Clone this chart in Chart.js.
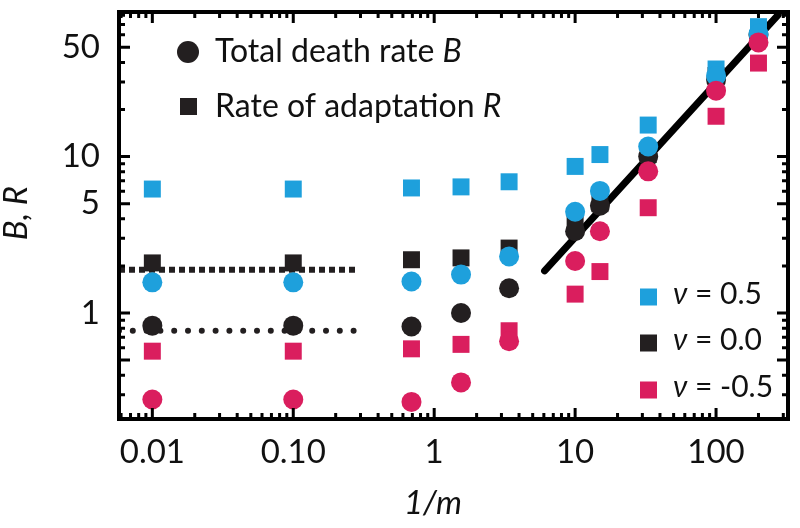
<!DOCTYPE html>
<html>
<head>
<meta charset="utf-8">
<script src="https://cdn.jsdelivr.net/npm/chart.js@4.4.0/dist/chart.umd.min.js"></script>
<style>
  html, body { margin: 0; padding: 0; background: #fff; }
</style>
</head>
<body>
<canvas id="statChart" width="800" height="528"></canvas>
<script>
// Trục x: 1/m
const invM = [0.01, 0.1, 0.69, 1.55, 3.4, 10, 15, 33, 100, 200];

// Total death rate B (hình tròn)
const bPos  = [1.57, 1.57, 1.59, 1.76, 2.3, 4.44, 6.03, 11.6, 32.8, 61];
const bZero = [0.83, 0.83, 0.82, 1.0, 1.44, 3.33, 4.85, 10.0, 31, 60];
const bNeg  = [0.28, 0.28, 0.27, 0.36, 0.66, 2.15, 3.33, 8.05, 26.4, 53.7];

// Rate of adaptation R (hình vuông)
const rPos  = [6.2, 6.2, 6.3, 6.4, 6.9, 8.65, 10.3, 15.9, 36.3, 67.7];
const rZero = [2.09, 2.09, 2.19, 2.25, 2.6, 4.0, 5.0, 10.3, 33, 63];
const rNeg  = [0.57, 0.57, 0.59, 0.63, 0.77, 1.32, 1.84, 4.71, 18.1, 39.6];

// Đường thẳng và hai giới hạn chấm
const fitX = [6.07, 276];
const fitY = [1.86, 80.5];
const limitX = [0.0058, 0.285];
const limitR = [1.89, 1.89];
const limitB = [0.77, 0.77];

// Nhãn trục
const xTicks = [0.01, 0.1, 1, 10, 100];
const xTickLabels = ['0.01', '0.10', '1', '10', '100'];
const yTicks = [1, 5, 10, 50];
const yTickLabels = ['1', '5', '10', '50'];

const X_MIN = 0.0058, X_MAX = 324;
const Y_MIN = 0.21, Y_MAX = 84;

const BLUE = 'rgb(30,160,220)';
const BLACK = 'rgb(35,31,32)';
const RED = 'rgb(218,30,94)';
const FONT = 'Lato';

function pts(xs, ys) {
    return xs.map((x, i) => ({ x: x, y: ys[i] }));
}

function markers(ys, color, style) {
    return {
        data: pts(invM, ys),
        pointStyle: style,
        pointRadius: style === 'rect' ? 12 : 10,
        pointHoverRadius: style === 'rect' ? 12 : 10,
        backgroundColor: color,
        borderColor: color,
        borderWidth: 0,
        showLine: false
    };
}

// thứ tự vẽ: phần tử đầu vẽ trước
const datasets = [
    {
        data: pts(limitX, limitR), showLine: true, pointRadius: 0,
        borderColor: BLACK, borderWidth: 6, borderDash: [6, 4], borderCapStyle: 'butt'
    },
    {
        data: pts(limitX, limitB), showLine: true, pointRadius: 0,
        borderColor: BLACK, borderWidth: 6, borderDash: [0, 13.8], borderCapStyle: 'round'
    },
    {
        data: pts(fitX, fitY), showLine: true, pointRadius: 0,
        borderColor: 'rgb(0,0,0)', borderWidth: 7, borderCapStyle: 'round'
    },
    markers(rZero, BLACK, 'rect'),
    markers(bZero, BLACK, 'circle'),
    markers(rNeg, RED, 'rect'),
    markers(rPos, BLUE, 'rect'),
    markers(bPos, BLUE, 'circle'),
    markers(bNeg, RED, 'circle')
];
datasets.forEach((d, i) => { d.order = datasets.length - i; });

// Khung, vạch chia hướng vào trong
const framePlugin = {
    id: 'frame',
    afterDatasetsDraw(chart) {
        const ctx = chart.ctx;
        const a = chart.chartArea;
        const xs = chart.scales.x, ys = chart.scales.y;
        ctx.save();
        ctx.strokeStyle = '#000';
        ctx.lineWidth = 3;
        ctx.beginPath();
        for (let d = -3; d <= 2; d++) {
            for (let k = 1; k <= 9; k++) {
                const v = k * Math.pow(10, d);
                if (v < X_MIN || v > X_MAX) continue;
                const p = xs.getPixelForValue(v);
                const len = k === 1 ? 11 : 6;
                ctx.moveTo(p, a.bottom); ctx.lineTo(p, a.bottom - len);
                ctx.moveTo(p, a.top); ctx.lineTo(p, a.top + len);
            }
        }
        for (let d = -1; d <= 1; d++) {
            for (let k = 1; k <= 9; k++) {
                const v = k * Math.pow(10, d);
                if (v < Y_MIN || v > Y_MAX) continue;
                const p = ys.getPixelForValue(v);
                const len = (k === 1 || k === 5) ? 11 : 6;
                ctx.moveTo(a.left, p); ctx.lineTo(a.left + len, p);
                ctx.moveTo(a.right, p); ctx.lineTo(a.right - len, p);
            }
        }
        ctx.stroke();
        ctx.lineWidth = 4;
        ctx.strokeRect(a.left, a.top, a.right - a.left, a.bottom - a.top);
        ctx.restore();
    },
    afterDraw(chart) {
        const ctx = chart.ctx;
        ctx.save();
        ctx.textBaseline = 'alphabetic';

        // chú thích B / R
        ctx.fillStyle = BLACK;
        ctx.beginPath();
        ctx.arc(188, 52, 11, 0, Math.PI * 2);
        ctx.fill();
        ctx.fillRect(180, 98, 17, 17);

        ctx.fillStyle = '#111';
        ctx.font = `32px ${FONT}`;
        let t1 = 'Total death rate ';
        ctx.fillText(t1, 215, 62);
        let w1 = ctx.measureText(t1).width;
        let t2 = 'Rate of adaptation ';
        ctx.fillText(t2, 215, 117);
        let w2 = ctx.measureText(t2).width;
        ctx.font = `italic 32px ${FONT}`;
        ctx.fillText('B', 215 + w1, 62);
        ctx.fillText('R', 215 + w2, 117);

        // chú thích nu
        const nuRows = [
            { c: BLUE, y: 297, v: '0.5' },
            { c: BLACK, y: 343, v: '0.0' },
            { c: RED, y: 390, v: '-0.5' }
        ];
        nuRows.forEach(r => {
            ctx.fillStyle = r.c;
            ctx.fillRect(640, r.y - 8.5, 17, 17);
            ctx.fillStyle = '#111';
            ctx.font = `italic 30px ${FONT}`;
            ctx.fillText('ν', 673, r.y + 7);
            let wn = ctx.measureText('ν').width;
            ctx.font = `30px ${FONT}`;
            ctx.fillText(' = ' + r.v, 673 + wn, r.y + 7);
        });

        // tiêu đề trục
        ctx.font = `italic 33px ${FONT}`;
        ctx.textAlign = 'center';
        ctx.fillText('1/m', 433, 514);
        ctx.translate(27, 213);
        ctx.rotate(-Math.PI / 2);
        ctx.fillText('B, R', 0, 0);
        ctx.restore();
    }
};

const ctx = document.getElementById('statChart').getContext('2d');
let chart = new Chart(ctx, {
    type: 'scatter',
    data: { datasets: datasets },
    options: {
        responsive: false,
        animation: false,
        events: [],
        layout: { padding: { left: 0, right: 5, top: 5, bottom: 0 } },
        plugins: {
            legend: { display: false },
            tooltip: { enabled: false }
        },
        scales: {
            x: {
                type: 'logarithmic',
                min: X_MIN,
                max: X_MAX,
                grid: { display: false, drawTicks: false },
                border: { display: false },
                afterBuildTicks: s => { s.ticks = xTicks.map(v => ({ value: v })); },
                afterFit: s => {
                    s.height = 109;
                    s.paddingLeft = 0; s.paddingRight = 0;
                },
                ticks: {
                    autoSkip: false,
                    maxRotation: 0,
                    padding: 14,
                    color: '#111',
                    font: { family: FONT, size: 33 },
                    callback: (v, i) => xTickLabels[i]
                }
            },
            y: {
                type: 'logarithmic',
                min: Y_MIN,
                max: Y_MAX,
                grid: { display: false, drawTicks: false },
                border: { display: false },
                afterBuildTicks: s => { s.ticks = yTicks.map(v => ({ value: v })); },
                afterFit: s => {
                    s.width = 119;
                    s.paddingTop = 0; s.paddingBottom = 0;
                },
                ticks: {
                    autoSkip: false,
                    padding: 19,
                    color: '#111',
                    font: { family: FONT, size: 33 },
                    callback: (v, i) => yTickLabels[i]
                }
            }
        }
    },
    plugins: [framePlugin]
});
</script>
</body>
</html>
